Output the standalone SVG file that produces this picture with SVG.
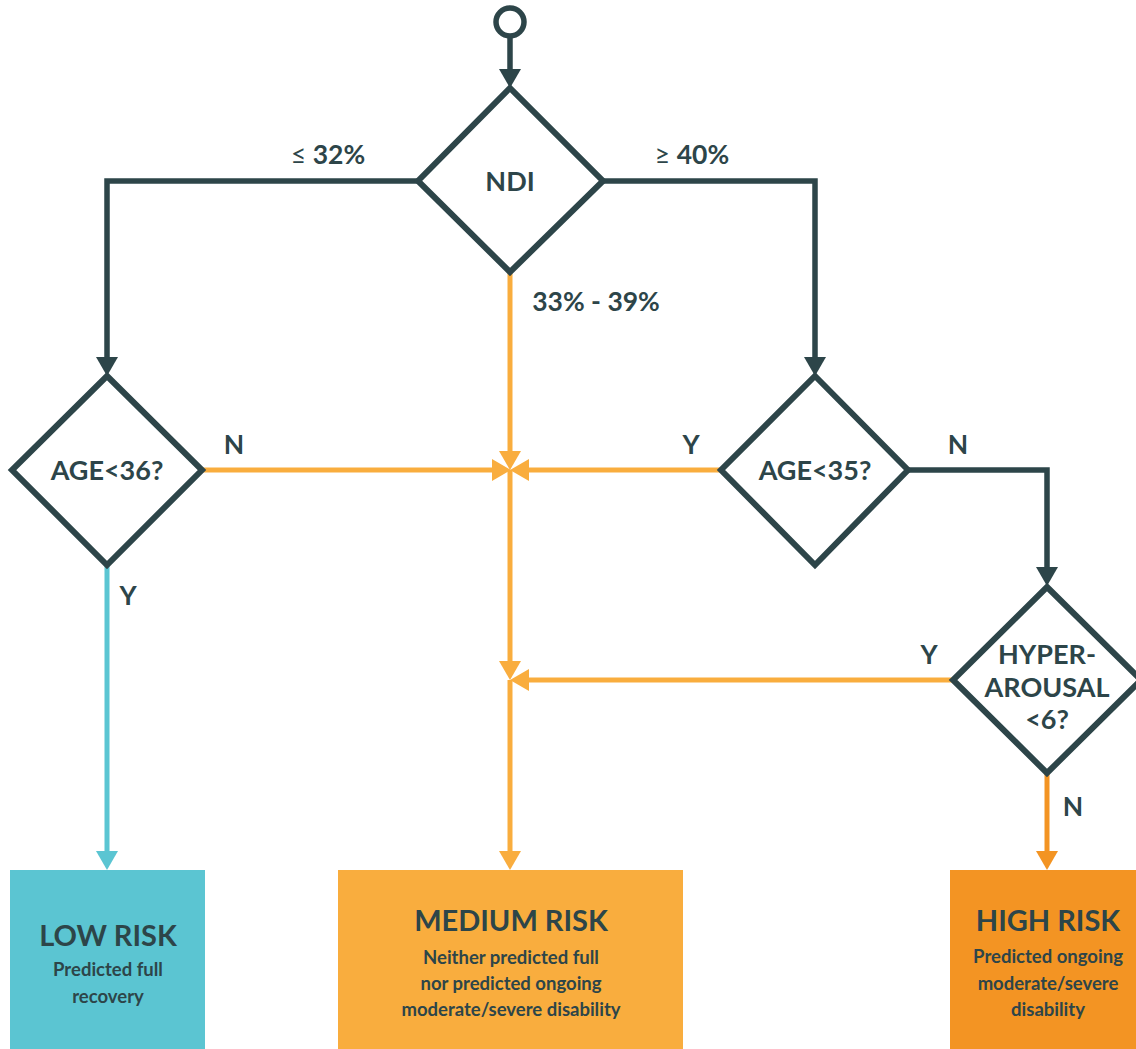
<svg xmlns="http://www.w3.org/2000/svg" width="1136" height="1049" viewBox="0 0 1136 1049">
<style>
.dk{fill:none;stroke:#2D4549;stroke-width:5.5}
.or{fill:none;stroke:#F9AD3E;stroke-width:5}
.oh{fill:none;stroke:#F39423;stroke-width:5}
.cy{fill:none;stroke:#5BC5D2;stroke-width:5}
.dia{fill:#fff;stroke:#2D4549;stroke-width:6;stroke-linejoin:miter}
text{font-family:Lato,"Open Sans","Liberation Sans",sans-serif;fill:#2D4549;text-anchor:middle}
.q{font-size:27px;font-weight:700}
.lb{font-size:26.5px;font-weight:700}
.t{font-size:29px;font-weight:700}
.s{font-size:18.5px;font-weight:700}
</style>
<defs>
<marker id="ad" markerUnits="userSpaceOnUse" markerWidth="20" markerHeight="22" refX="0" refY="11" orient="auto"><path d="M0,0 L19,11 L0,22 z" fill="#2D4549"/></marker>
<marker id="ao" markerUnits="userSpaceOnUse" markerWidth="20" markerHeight="22" refX="0" refY="11" orient="auto"><path d="M0,0 L19,11 L0,22 z" fill="#F9AD3E"/></marker>
<marker id="ah" markerUnits="userSpaceOnUse" markerWidth="20" markerHeight="22" refX="0" refY="11" orient="auto"><path d="M0,0 L19,11 L0,22 z" fill="#F39423"/></marker>
<marker id="ac" markerUnits="userSpaceOnUse" markerWidth="20" markerHeight="22" refX="0" refY="11" orient="auto"><path d="M0,0 L19,11 L0,22 z" fill="#5BC5D2"/></marker>
</defs>

<g id="connectors">
<path class="dk" d="M510,37 V69" marker-end="url(#ad)"/>
<path class="dk" d="M418,181 H107 V357" marker-end="url(#ad)"/>
<path class="dk" d="M603,181 H815 V357" marker-end="url(#ad)"/>
<path class="dk" d="M908,470 H1047 V567" marker-end="url(#ad)"/>
<path class="or" d="M510,270 V451" marker-end="url(#ao)"/>
<path class="or" d="M510,470 V661" marker-end="url(#ao)"/>
<path class="or" d="M510,680 V851" marker-end="url(#ao)"/>
<path class="or" d="M203,470 H492" marker-end="url(#ao)"/>
<path class="or" d="M720,470 H529" marker-end="url(#ao)"/>
<path class="or" d="M953,680 H529" marker-end="url(#ao)"/>
<path class="oh" d="M1047,773 V851" marker-end="url(#ah)"/>
<path class="cy" d="M107,565 V851" marker-end="url(#ac)"/>
<text class="lb" x="328" y="164"><tspan font-weight="400">≤</tspan> 32%</text>
<text class="lb" x="692" y="164"><tspan font-weight="400">≥</tspan> 40%</text>
<text class="lb" x="596" y="311">33% - 39%</text>
<text class="lb" x="234" y="454">N</text>
<text class="lb" x="691" y="454">Y</text>
<text class="lb" x="958" y="454">N</text>
<text class="lb" x="128" y="605">Y</text>
<text class="lb" x="929" y="664">Y</text>
<text class="lb" x="1073" y="816">N</text>
</g>

<g id="start"><circle cx="510" cy="22" r="14" fill="#fff" stroke="#2D4549" stroke-width="5.5"/></g>

<g id="ndi"><path class="dia" d="M510,88 L603,181 L510,272 L418,181 z"/><text class="q" x="510" y="191">NDI</text></g>

<g id="age36"><path class="dia" d="M107,376 L202,470 L107,565 L12,470 z"/><text class="q" x="107" y="480">AGE&lt;36?</text></g>

<g id="age35"><path class="dia" d="M815,376 L908,470 L815,565 L721,470 z"/><text class="q" x="815" y="480">AGE&lt;35?</text></g>

<g id="hyper"><path class="dia" d="M1047,587 L1141,680 L1047,773 L953,680 z"/>
<text class="q" x="1047" y="664">HYPER-</text><text class="q" x="1047" y="697">AROUSAL</text><text class="q" x="1047" y="729">&lt;6?</text></g>

<g id="low"><rect x="10" y="870" width="195" height="179" fill="#5BC5D2"/>
<text class="t" x="108" y="946">LOW RISK</text><text class="s" x="108" y="976">Predicted full</text><text class="s" x="108" y="1003">recovery</text></g>

<g id="medium"><rect x="338" y="870" width="345" height="179" fill="#F9AD3E"/>
<text class="t" x="511" y="931">MEDIUM RISK</text><text class="s" x="511" y="964">Neither predicted full</text><text class="s" x="511" y="990">nor predicted ongoing</text><text class="s" x="511" y="1016">moderate/severe disability</text></g>

<g id="high"><rect x="950" y="870" width="186" height="179" fill="#F39423"/>
<text class="t" x="1048" y="931">HIGH RISK</text><text class="s" x="1048" y="963">Predicted ongoing</text><text class="s" x="1048" y="990">moderate/severe</text><text class="s" x="1048" y="1016">disability</text></g>
</svg>
